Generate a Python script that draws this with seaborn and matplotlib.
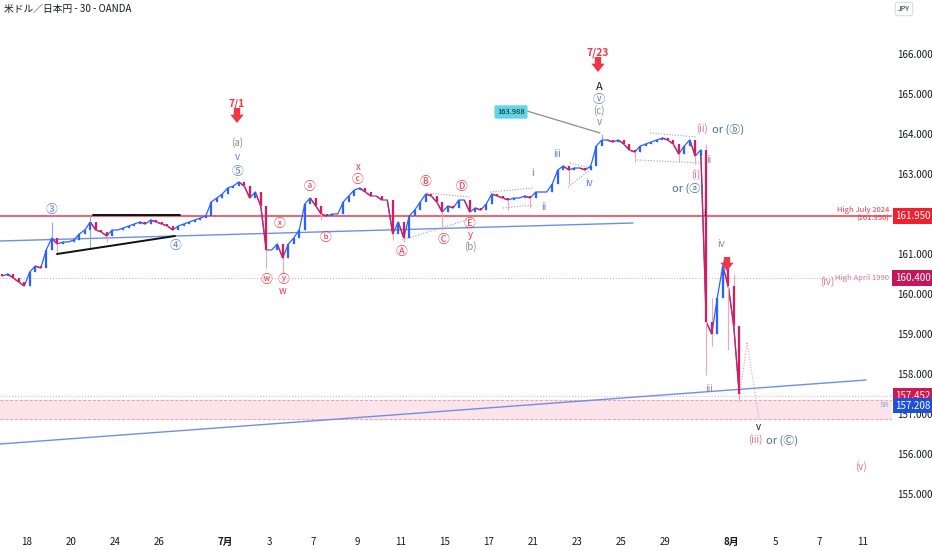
import matplotlib
matplotlib.use("Agg")
import matplotlib.pyplot as plt
from matplotlib.collections import LineCollection
import numpy as np
import pandas as pd
import seaborn as sns

sns.set_theme(style="white")
plt.rcParams["font.family"] = ["Noto Sans CJK JP", "DejaVu Sans"]

first_open = 160.5
closes = [
    160.45, 160.5, 160.4, 160.3, 160.2, 160.55, 160.7, 160.65, 161.1, 161.4,
    161.25, 161.3, 161.3, 161.35, 161.5, 161.6, 161.8, 161.6, 161.55, 161.45,
    161.6, 161.6, 161.65, 161.7, 161.75, 161.8, 161.75, 161.85, 161.8, 161.75,
    161.7, 161.6, 161.7, 161.75, 161.8, 161.85, 161.9, 161.95, 162.3, 162.4,
    162.5, 162.65, 162.7, 162.8, 162.7, 162.4, 162.55, 162.2, 161.1, 161.1,
    161.25, 160.9, 161.25, 161.4, 161.6, 162.25, 162.4, 162.2, 162.0, 161.95,
    162.0, 162.0, 162.3, 162.45, 162.6, 162.65, 162.55, 162.45, 162.45, 162.35,
    162.35, 161.5, 161.8, 161.4, 161.95, 162.1, 162.3, 162.5, 162.45, 162.3,
    162.05, 162.2, 162.15, 162.35, 162.35, 162.05, 162.15, 162.1, 162.25, 162.5,
    162.45, 162.4, 162.35, 162.4, 162.4, 162.45, 162.4, 162.55, 162.55, 162.55,
    162.75, 163.1, 163.2, 163.1, 163.15, 163.15, 163.1, 163.2, 163.7, 163.85,
    163.85, 163.8, 163.85, 163.75, 163.6, 163.55, 163.7, 163.75, 163.8, 163.85,
    163.9, 163.85, 163.75, 163.5, 163.7, 163.85, 163.45, 163.6, 159.3, 159.0,
    159.9, 160.7, 160.2, 159.2, 157.5,
]
high_bars = [9, 16, 109, 128, 129, 131, 132, 133]
high_vals = [161.8, 161.95, 163.99, 163.75, 159.9, 160.85, 160.7, 160.5]
low_bars = [10, 16, 19, 48, 51, 58, 71, 73, 80, 92, 96, 103, 115, 123, 126, 128, 129, 132, 134]
low_vals = [161.0, 161.15, 161.3, 160.65, 160.5, 161.85, 161.35, 161.3, 161.6, 162.1,
            162.15, 162.75, 163.3, 163.3, 163.25, 157.98, 158.7, 158.6, 157.35]

tick_days = [0, 2, 4, 6, 9, 11, 13, 15, 17, 19, 21, 23, 25, 27, 29, 32, 34, 36, 38]
tick_labels = ["18", "20", "24", "26", "7月", "3", "7", "9", "11", "15", "17",
               "21", "23", "25", "29", "8月", "5", "7", "11"]
price_ticks = [155, 156, 157, 158, 159, 160, 161, 163, 164, 165, 166]

high_july = 161.950
high_april = 160.400
last_a = 157.452
last_b = 157.208
sr_zone = [156.88, 157.35]
peak_label = 163.988

UP, DOWN = "#2962ff", "#d81b5a"
UP_WICK, DOWN_WICK = "#8ea6ff", "#f3a5b8"
RED = "#f23645"
BLUE = "#5b7fe0"
GRAY = "#8a8a8a"
PINK = "#e0708f"
TEAL = "#456e8c"
INK = "#131722"


def px(x, y):
    # reference pixel -> (trading day, price)
    return (x - 27) / 22, 166 - (y - 54) / 40


df = pd.DataFrame({"close": closes})
df["t"] = np.arange(len(df)) * 0.25 - 1.125
df["open"] = [first_open] + closes[:-1]
df["high"] = df[["open", "close"]].max(axis=1)
df["low"] = df[["open", "close"]].min(axis=1)
df.loc[high_bars, "high"] = high_vals
df.loc[low_bars, "low"] = low_vals
up = df["close"] >= df["open"]

fig = plt.figure(figsize=(9.32, 5.5), dpi=100)
ax = fig.add_axes([0, 23 / 550, 892 / 932, 527 / 550])
ax.set_xlim(-27 / 22, (892 - 27) / 22)
ax.set_ylim(166 - (527 - 54) / 40, 166 + 54 / 40)

# zone and levels
ax.axhspan(sr_zone[0], sr_zone[1], color="#fde3ea", zorder=0)
for lvl in sr_zone:
    ax.axhline(lvl, color="#e6a3b3", lw=0.7, ls=(0, (3, 2)), zorder=1)
ax.axhline(last_a, color="#e6a3b3", lw=0.7, ls=(0, (1, 2)), zorder=1)
ax.axhline(high_july, color=RED, lw=1.1, zorder=1)
ax.plot([px(0, 0)[0], px(848, 0)[0]], [high_april, high_april], color="#e89bb0",
        lw=0.7, ls=(0, (1, 2)), zorder=1)

# trendlines
for (x1, y1), (x2, y2) in [((0, 241), (633, 223)), ((0, 444), (866, 380))]:
    a, b = px(x1, y1), px(x2, y2)
    ax.plot([a[0], b[0]], [a[1], b[1]], color="#6f8fe6", lw=1.0, zorder=2)
for (x1, y1), (x2, y2) in [((93, 215), (180, 215)), ((57, 254), (175, 236))]:
    a, b = px(x1, y1), px(x2, y2)
    ax.plot([a[0], b[0]], [a[1], b[1]], color="#111111", lw=1.4, zorder=4)
for (x1, y1), (x2, y2), c in [((402, 240), (467, 220), "#a0a0a0"), ((427, 193), (470, 197), "#a0a0a0"),
                              ((490, 192), (533, 188), "#a0a0a0"), ((503, 208), (532, 205), "#a0a0a0"),
                              ((570, 163), (590, 168), "#a0a0a0"), ((568, 187), (590, 170), "#a0a0a0"),
                              ((650, 133), (697, 137), "#90a4e0"), ((637, 160), (703, 163), "#90a4e0")]:
    a, b = px(x1, y1), px(x2, y2)
    ax.plot([a[0], b[0]], [a[1], b[1]], color=c, lw=0.8, ls=(0, (1, 1.5)), zorder=2)
proj = [px(739, 402), px(747, 342), px(759, 419)]
ax.plot([p[0] for p in proj], [p[1] for p in proj], color="#eaa0b5", lw=0.8, ls=(0, (1, 1.5)), zorder=2)
a, b = px(527, 111), px(600, 133)
ax.plot([a[0], b[0]], [a[1], b[1]], color="#8c8c8c", lw=0.9, zorder=2)

# candles: close path underneath (down moves tinted red), then wicks and bodies
sns.lineplot(data=df, x="t", y="close", ax=ax, color=UP, lw=0.9, sort=False,
             estimator=None, zorder=3)
pts = df[["t", "close"]].to_numpy()
segs = np.stack([pts[:-1], pts[1:]], axis=1)
down_seg = pts[1:, 1] < pts[:-1, 1]
ax.add_collection(LineCollection(segs[down_seg], colors=DOWN, lw=0.9, zorder=3))
ax.vlines(df["t"], df["low"], df["high"], colors=np.where(up, UP_WICK, DOWN_WICK), lw=0.8, zorder=3)
ax.vlines(df["t"], df["open"], df["close"], colors=np.where(up, UP, DOWN), lw=1.6, zorder=3)
ax.set_xlabel("")
ax.set_ylabel("")


def label(x, y, s, color, size=7, weight="normal"):
    d, p = px(x, y)
    ax.text(d, p, s, color=color, fontsize=size, fontweight=weight, ha="center", va="center", zorder=6)


def arrow(x, y_top, y_tip):
    ax.annotate("", xy=px(x, y_tip), xytext=px(x, y_top), zorder=6,
                arrowprops=dict(arrowstyle="simple,head_width=0.8,head_length=0.5,tail_width=0.38",
                                color=RED, lw=0, shrinkA=0, shrinkB=0))


CIRC = 8.5
label(237, 104, "7/1", RED, 7.5, "bold")
arrow(237, 108, 123)
label(598, 53, "7/23", RED, 7.5, "bold")
arrow(598, 57, 72)
arrow(727, 257, 271)

label(237, 143, "(a)", GRAY)
label(237, 157, "v", BLUE)
label(237, 171, "⑤", BLUE, CIRC)
label(52, 210, "③", BLUE, CIRC)
label(176, 245, "④", BLUE, CIRC)
label(267, 279, "ⓦ", RED, CIRC)
label(279, 223, "ⓧ", RED, CIRC)
label(283, 279, "ⓨ", RED, CIRC)
label(283, 291, "w", RED)
label(310, 186, "ⓐ", RED, CIRC)
label(326, 238, "ⓑ", RED, CIRC)
label(358, 167, "x", RED)
label(358, 179, "ⓒ", RED, CIRC)
label(401, 252, "Ⓐ", RED, CIRC)
label(426, 182, "Ⓑ", RED, CIRC)
label(443, 239, "Ⓒ", RED, CIRC)
label(462, 186, "Ⓓ", RED, CIRC)
label(470, 224, "Ⓔ", RED, CIRC)
label(470, 235, "y", RED)
label(470, 247, "(b)", GRAY)
label(533, 173, "i", BLUE)
label(544, 207, "ii", BLUE)
label(557, 154, "iii", BLUE)
label(589, 183, "iv", BLUE)
label(599, 87, "A", INK, 8)
label(599, 99, "ⓥ", BLUE, 9)
label(599, 111, "(c)", GRAY)
label(599, 122, "v", BLUE)
label(702, 129, "(ii)", PINK)
label(728, 129, "or (ⓑ)", TEAL, 8)
label(709, 160, "ii", GRAY)
label(696, 175, "(i)", PINK)
label(688, 188, "or (ⓐ)", TEAL, 8)
label(704, 214, "i", INK, 6)
label(721, 244, "iv", GRAY)
label(709, 389, "iii", GRAY)
label(758, 427, "v", INK)
label(755, 440, "(iii)", PINK)
label(782, 440, "or (Ⓒ)", TEAL, 8)
label(861, 467, "(v)", PINK)
label(827, 282, "(iv)", PINK)

d, p = px(511, 112)
ax.text(d, p, f"{peak_label:.3f}", fontsize=5.5, color=INK, ha="center", va="center", zorder=7,
        bbox=dict(boxstyle="round,pad=0.35,rounding_size=0.2", fc="#5fd6e6", ec="none"))

# level captions near the price scale
for y, s, c in [(210, "High July 2024", RED), (219, "(161.950)", RED),
                (278, "High April 1990", PINK), (405, "SR", "#8aa3e0")]:
    ax.text(px(889, 0)[0], px(0, y)[1], s, fontsize=5.5, color=c, ha="right", va="center", zorder=6)

# axis styling
sns.despine(ax=ax, left=True, bottom=True, right=True, top=True)
ax.yaxis.tick_right()
ax.set_yticks(price_ticks)
ax.set_yticklabels([f"{v:.3f}" for v in price_ticks])
ax.set_xticks(tick_days)
ax.set_xticklabels(tick_labels)
ax.tick_params(axis="y", length=0, pad=4, labelsize=7, colors=INK)
ax.tick_params(axis="x", length=0, pad=7, labelsize=7, colors=INK)
for t in ax.get_xticklabels():
    if "月" in t.get_text():
        t.set_fontweight("bold")
ax.grid(False)

# price boxes on the scale
for val, col in [(high_july, "#f0202e"), (high_april, "#c2185b"), (last_a, "#d3184f"), (last_b, "#1e50d8")]:
    ax.text(1.0 + 21 / 892, val, f"{val:.3f}", transform=ax.get_yaxis_transform(), fontsize=7,
            color="white", ha="center", va="center", zorder=8,
            bbox=dict(boxstyle="square,pad=0.28", fc=col, ec="none"))

fig.text(4 / 932, 1 - 9 / 550, "米ドル／日本円 - 30 - OANDA", fontsize=7, color=INK, va="center")
fig.text(904 / 932, 1 - 9 / 550, "JPY", fontsize=5, color=INK, ha="center", va="center",
         bbox=dict(boxstyle="round,pad=0.4", fc="white", ec="#d0d3db", lw=0.6))

fig.savefig("out.png", dpi=100)
